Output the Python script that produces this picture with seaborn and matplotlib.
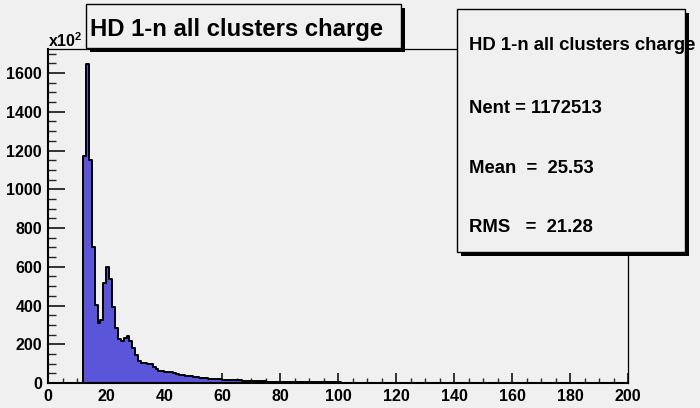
import numpy as np
import pandas as pd
import matplotlib
matplotlib.use("Agg")
import matplotlib.pyplot as plt
from matplotlib.patches import Rectangle
from matplotlib.ticker import MultipleLocator
import seaborn as sns

# ---------------- data ----------------
first_bin = 12  # lower edge of first filled bin (unit-width bins)
counts_x100 = [
    1171, 1646, 1151, 700, 402, 308, 325, 514, 600, 535,      # 12-21
    390, 285, 225, 215, 232, 242, 218, 180, 142, 115,         # 22-31
    104, 102, 100, 96, 84, 70, 64, 62, 58, 57,                # 32-41
    55, 51, 48, 43, 40, 38, 36, 34, 32, 29,                   # 42-51
    28, 27, 26, 23, 22, 21, 20, 19, 17, 16,                   # 52-61
    15, 15, 14, 14, 13, 12, 12, 11, 10, 9,                    # 62-71
    9, 8, 8, 7, 7, 6, 6, 6, 5, 5,                             # 72-81
    5, 5, 4, 4, 4, 4, 4, 3, 3, 3,                             # 82-91
    3, 3, 3, 3, 3, 3, 3, 3, 3, 2,                             # 92-101
    2, 2, 2, 2, 2, 2, 2, 2, 2, 2,                             # 102-111
    2, 2, 2, 2, 2, 2, 2, 2, 2, 2,                             # 112-121
    2, 2, 2, 2, 2, 2, 2, 2, 1, 1,                             # 122-131
    1, 1, 1, 1, 1, 1, 1, 1, 1, 1,                             # 132-141
    1, 1, 1, 1, 1, 1, 1, 1, 1, 1,                             # 142-151
    1, 1, 1, 1, 1, 1, 1, 1, 1, 1,                             # 152-161
    1, 1, 1, 1, 1, 1, 1, 1, 1, 1,                             # 162-171
    1, 1, 1, 1, 1, 1, 1, 1, 1, 1,                             # 172-181
    1, 1, 1, 1, 1, 1, 1, 1, 1, 1,                             # 182-191
    1, 1, 1, 1, 1, 1, 1, 1,                                   # 192-199
]
hist_title = "HD 1-n all clusters charge"
stat_lines = ["HD 1-n all clusters charge", "Nent = 1172513",
              "Mean  =  25.53", "RMS   =  21.28"]
x_ticks = [0, 20, 40, 60, 80, 100, 120, 140, 160, 180, 200]
y_ticks = [0, 200, 400, 600, 800, 1000, 1200, 1400, 1600]
y_max = 1724
exp_label = r"x10$^{\mathbf{2}}$"

# ---------------- style ----------------
BG = "#f0f0f0"
FILL = "#5a55d9"
sns.set_theme(style="white")
plt.rcParams["font.family"] = ["Liberation Sans", "DejaVu Sans"]
plt.rcParams["font.weight"] = "bold"
plt.rcParams["mathtext.fontset"] = "custom"
plt.rcParams["mathtext.rm"] = "Liberation Sans:bold"
plt.rcParams["mathtext.bf"] = "Liberation Sans:bold"

W, H = 700, 408
fig = plt.figure(figsize=(W / 100, H / 100), dpi=100, facecolor=BG)


def fx(px):
    return px / W


def fy(py):
    return 1 - py / H


L, R, T, B = 48.3, 628, 49, 383
ax = fig.add_axes([fx(L), fy(B), fx(R) - fx(L), fy(T) - fy(B)])
ax.set_facecolor(BG)

n_bins = len(counts_x100)
df = pd.DataFrame({"charge": [first_bin + i + 0.5 for i in range(n_bins)],
                   "n": counts_x100})
sns.histplot(data=df, x="charge", weights="n", binwidth=1,
             binrange=(first_bin, first_bin + n_bins), element="step",
             fill=True, color=FILL, alpha=1, edgecolor="black",
             linewidth=1.4, ax=ax)

ax.set_xlim(0, 200)
ax.set_ylim(0, y_max)
ax.set_xlabel("")
ax.set_ylabel("")
ax.grid(False)
ax.set_xticks(x_ticks)
ax.set_xticklabels([str(t) for t in x_ticks])
ax.set_yticks(y_ticks)
ax.set_yticklabels([str(t) for t in y_ticks])
ax.xaxis.set_minor_locator(MultipleLocator(5))
ax.yaxis.set_minor_locator(MultipleLocator(50))
ax.tick_params(axis="x", which="major", direction="in", length=7.2, width=1.1,
               pad=4, labelsize=11.5, colors="black", bottom=True, top=False)
ax.tick_params(axis="x", which="minor", direction="in", length=3.4, width=1.0,
               bottom=True, top=False)
ax.tick_params(axis="y", which="major", direction="in", length=12.5, width=1.1,
               pad=4.5, labelsize=11.5, colors="black", left=True, right=False)
ax.tick_params(axis="y", which="minor", direction="in", length=6, width=1.0,
               left=True, right=False)
for lab in ax.get_xticklabels() + ax.get_yticklabels():
    lab.set_fontweight("bold")
for side in ["left", "bottom"]:
    ax.spines[side].set_linewidth(1.5)
    ax.spines[side].set_color("black")
for side in ["top", "right"]:
    ax.spines[side].set_linewidth(0.9)
    ax.spines[side].set_color("black")
    ax.spines[side].set_visible(True)

fig.text(fx(48), fy(46.7), exp_label, ha="left", va="baseline",
         fontsize=11.5, fontweight="bold", color="black")


def shadow_box(x0, y0, x1, y1, off=4):
    fig.patches.append(Rectangle((fx(x0 + off), fy(y1 + off)), fx(x1) - fx(x0),
                                 fy(y0) - fy(y1), transform=fig.transFigure,
                                 facecolor="black", edgecolor="none", zorder=2))
    fig.patches.append(Rectangle((fx(x0), fy(y1)), fx(x1) - fx(x0),
                                 fy(y0) - fy(y1), transform=fig.transFigure,
                                 facecolor=BG, edgecolor="black", linewidth=1.0,
                                 zorder=2.1))


# title box
shadow_box(86, 4, 401, 48.3)
fig.text(fx(89.7), fy(36), hist_title, ha="left", va="baseline",
         fontsize=17.2, fontweight="bold", color="black", zorder=3)

# stats box
shadow_box(457.3, 9, 685, 252)
for s, yb in zip(stat_lines, [50, 112.7, 172.7, 232.3]):
    fig.text(fx(469), fy(yb), s, ha="left", va="baseline",
             fontsize=13.3, fontweight="bold", color="black", zorder=3)

fig.savefig("out.png", dpi=100, facecolor=BG)
